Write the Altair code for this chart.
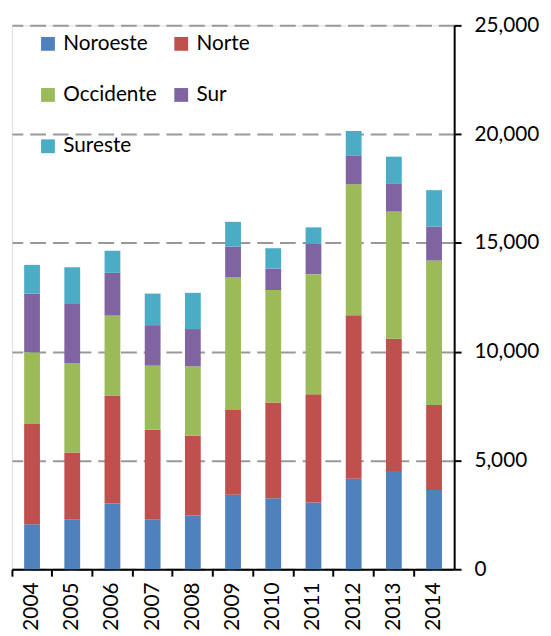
import altair as alt
import pandas as pd

years = ["2004", "2005", "2006", "2007", "2008", "2009", "2010", "2011", "2012", "2013", "2014"]
series = ["Noroeste", "Norte", "Occidente", "Sur", "Sureste"]
colors = ["#4F81BD", "#C0504D", "#9BBB59", "#8064A2", "#4BACC6"]

noroeste = [2070, 2300, 3025, 2270, 2465, 3420, 3265, 3070, 4160, 4520, 3645]
norte = [4610, 3070, 4960, 4140, 3675, 3900, 4400, 4975, 7515, 6080, 3900]
occidente = [3290, 4115, 3675, 2950, 3190, 6110, 5170, 5520, 6020, 5840, 6640]
sur = [2700, 2710, 1965, 1860, 1710, 1405, 985, 1395, 1330, 1300, 1560]
sureste = [1320, 1690, 1015, 1450, 1665, 1135, 935, 755, 1120, 1225, 1680]

values = [noroeste, norte, occidente, sur, sureste]
rows = []
for si, (name, vals) in enumerate(zip(series, values)):
    for y, v in zip(years, vals):
        rows.append({"year": y, "region": name, "value": v, "order": si})
df = pd.DataFrame(rows)

FONT = "Lato"

chart = (
    alt.Chart(df)
    .mark_bar(size=16)
    .encode(
        x=alt.X(
            "year:N",
            sort=years,
            title=None,
            scale=alt.Scale(paddingInner=0, paddingOuter=0),
            axis=alt.Axis(
                labelAngle=-90,
                bandPosition=0,
                ticks=True,
                tickSize=7,
                tickWidth=2,
                tickColor="black",
                domainColor="black",
                domainWidth=2,
                labelPadding=6,
                labelFont=FONT,
                labelFontSize=21,
                labelColor="black",
                grid=False,
            ),
        ),
        y=alt.Y(
            "value:Q",
            stack="zero",
            title=None,
            scale=alt.Scale(domain=[0, 25000], nice=False),
            axis=alt.Axis(
                orient="right",
                values=[0, 5000, 10000, 15000, 20000, 25000],
                format=",d",
                tickSize=7,
                tickWidth=2,
                tickColor="black",
                domainColor="black",
                domainWidth=2,
                labelPadding=13,
                labelFont=FONT,
                labelFontSize=21,
                labelColor="black",
                grid=True,
                gridDash=[16, 7],
                gridColor="#999999",
                gridWidth=2,
            ),
        ),
        color=alt.Color(
            "region:N",
            sort=series,
            scale=alt.Scale(domain=series, range=colors),
            legend=alt.Legend(
                title=None,
                orient="none",
                direction="horizontal",
                legendX=26,
                legendY=8,
                columns=2,
                columnPadding=14,
                rowPadding=30,
                symbolType="square",
                symbolSize=196,
                symbolStrokeWidth=0,
                symbolOpacity=1,
                labelOffset=5,
                labelFont=FONT,
                labelFontSize=21,
                labelColor="black",
                padding=0,
            ),
        ),
        order=alt.Order("order:Q", sort="ascending"),
    )
    .properties(
        width=448,
        height=551,
        padding={"left": 4, "top": 13.5, "right": 90, "bottom": 60},
        autosize=alt.AutoSizeParams(type="none"),
    )
    .configure_view(stroke=None)
    .configure(background="white")
)

chart.save("out.html", embed_options={"renderer": "svg", "actions": False})
